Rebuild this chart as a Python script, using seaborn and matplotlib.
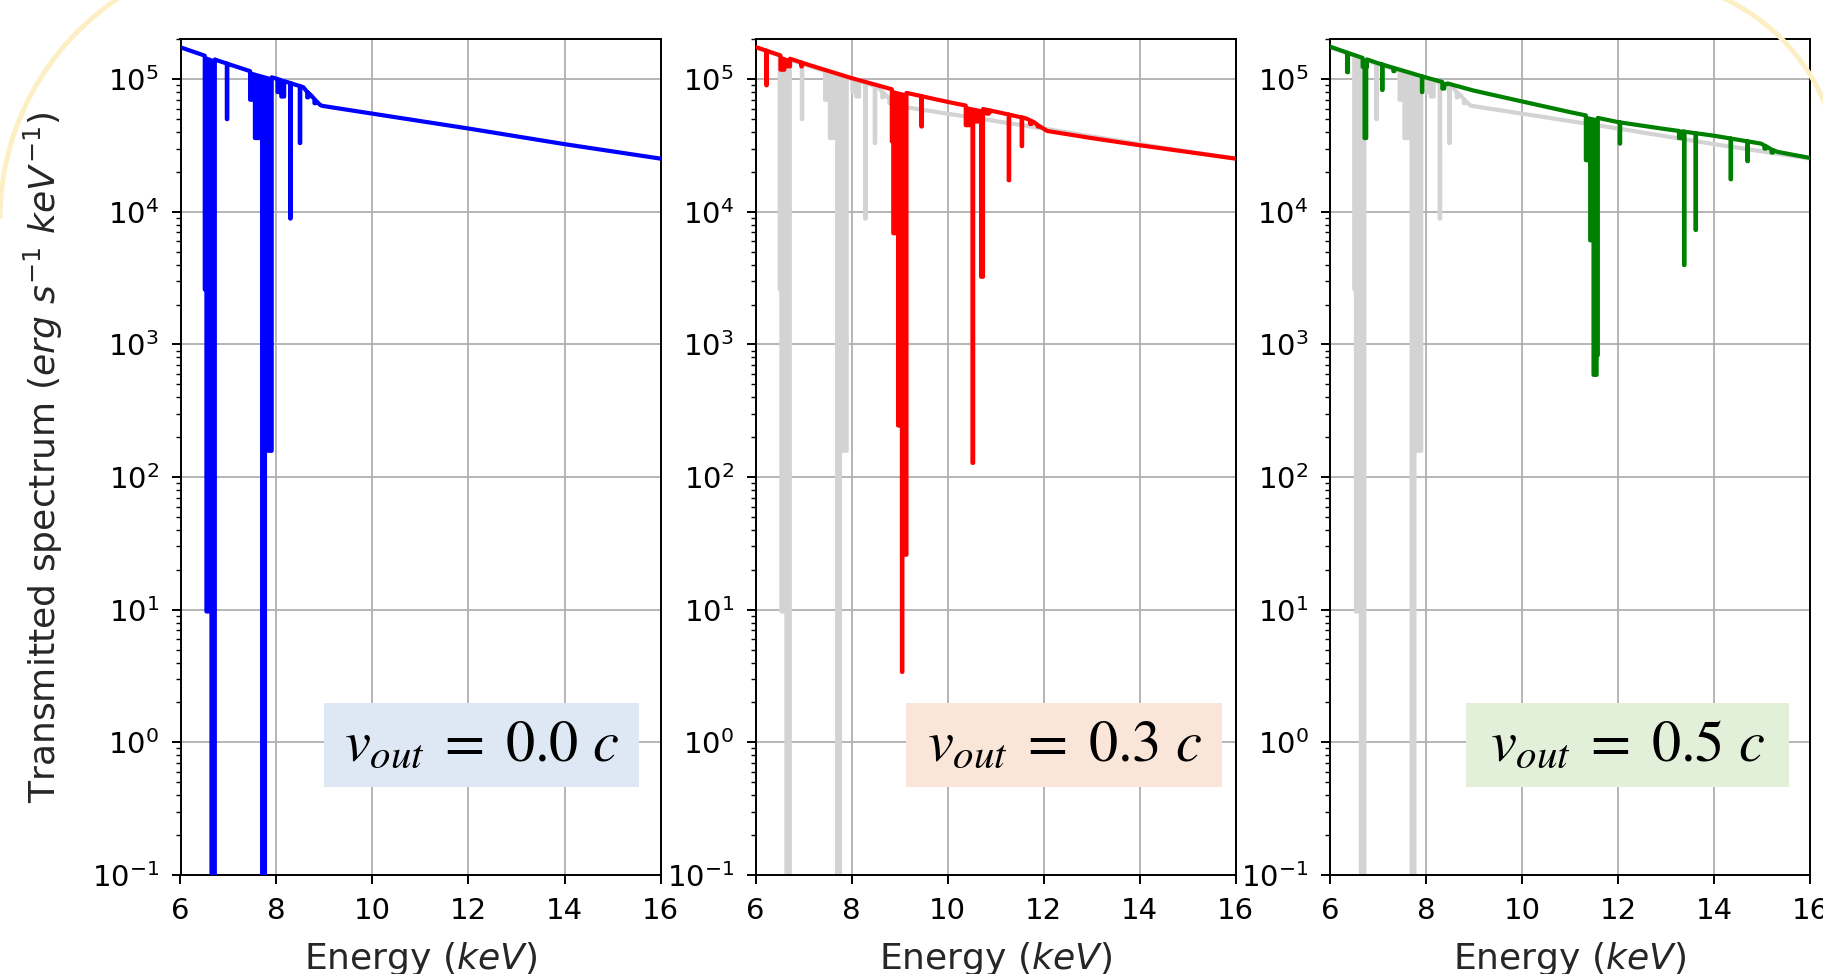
import numpy as np
import pandas as pd
import matplotlib
matplotlib.use("Agg")
import matplotlib.pyplot as plt
import seaborn as sns
from matplotlib.patches import Rectangle, Arc
from matplotlib.transforms import IdentityTransform

sns.set_theme(style="ticks")
plt.rcParams["font.family"] = ["DejaVu Sans"]
plt.rcParams["mathtext.fontset"] = "dejavusans"

# ---------------- data ----------------
panel_velocity = ["0.0", "0.3", "0.5"]
panel_color = ["blue", "red", "green"]
box_color = ["#dde8f4", "#fae5d9", "#e2efd9"]
x_ticks = [6, 8, 10, 12, 14, 16]

# v_out = 0.0 c : continuum nodes (keV, erg/s/keV)
blue_cont_E = [6.0, 6.45, 6.76, 7.0, 7.45, 8.0, 8.56, 8.63, 8.73, 8.80, 8.91, 8.95, 10.0, 12.0, 14.0, 16.0]
blue_cont_F = [1.74e5, 1.53e5, 1.39e5, 1.30e5, 1.15e5, 1.01e5, 8.7e4, 8.1e4, 7.5e4, 7.0e4, 6.4e4, 6.3e4, 5.5e4, 4.25e4, 3.24e4, 2.52e4]
# absorption features: start, end, minimum flux
blue_abs_lo = [6.505, 6.54, 6.645, 6.965, 7.45, 7.55, 7.70, 7.76, 8.02, 8.10, 8.285, 8.485, 8.64, 8.79]
blue_abs_hi = [6.54, 6.645, 6.715, 6.975, 7.55, 7.70, 7.76, 7.90, 8.06, 8.16, 8.295, 8.495, 8.66, 8.81]
blue_abs_min = [2.6e3, 9.7, 1e-3, 5.0e4, 7.0e4, 3.6e4, 1e-3, 158, 8.0e4, 7.4e4, 8.9e3, 3.3e4, 7.3e4, 6.6e4]

# v_out = 0.3 c
red_cont_E = [6.0, 7.0, 8.0, 9.0, 10.0, 11.0, 11.64, 11.80, 11.95, 12.08, 13.0, 14.0, 15.0, 16.0]
red_cont_F = [1.75e5, 1.32e5, 1.02e5, 8.1e4, 6.75e4, 5.7e4, 5.06e4, 4.75e4, 4.35e4, 4.07e4, 3.6e4, 3.18e4, 2.83e4, 2.52e4]
red_abs_lo = [6.225, 6.52, 6.60, 6.955, 8.84, 8.87, 8.97, 9.05, 9.06, 9.455, 10.38, 10.52, 10.535, 10.70, 10.82, 10.89, 11.275, 11.545, 11.72, 11.88]
red_abs_hi = [6.235, 6.60, 6.72, 6.965, 8.87, 8.97, 9.05, 9.06, 9.145, 9.465, 10.52, 10.535, 10.70, 10.74, 10.86, 10.91, 11.285, 11.555, 11.75, 11.92]
red_abs_min = [9.0e4, 1.18e5, 1.25e5, 1.25e5, 3.4e4, 6.9e3, 245, 3.4, 26, 4.4e4, 4.5e4, 128, 4.8e4, 3.24e3, 5.5e4, 5.7e4, 1.73e4, 3.13e4, 4.6e4, 4.4e4]

# v_out = 0.5 c
green_cont_E = [6.0, 7.0, 8.0, 9.0, 10.0, 11.0, 12.0, 13.0, 14.0, 14.98, 15.10, 15.20, 15.33, 16.0]
green_cont_F = [1.76e5, 1.32e5, 1.03e5, 8.2e4, 6.8e4, 5.65e4, 4.75e4, 4.2e4, 3.75e4, 3.27e4, 3.1e4, 2.95e4, 2.83e4, 2.55e4]
green_abs_lo = [6.355, 6.68, 6.72, 6.755, 7.085, 7.32, 7.915, 8.34, 8.38, 8.83, 11.33, 11.42, 11.49, 11.555, 12.035, 13.27, 13.375, 13.615, 14.345, 14.695, 15.05, 15.20]
green_abs_hi = [6.375, 6.72, 6.755, 6.77, 7.095, 7.34, 7.925, 8.38, 8.45, 8.85, 11.42, 11.49, 11.555, 11.58, 12.045, 13.33, 13.385, 13.625, 14.355, 14.705, 15.08, 15.23]
green_abs_min = [1.13e5, 1.24e5, 3.6e4, 1.24e5, 8.3e4, 1.15e5, 8.0e4, 8.5e4, 9.2e4, 9.3e4, 2.45e4, 6.1e3, 590, 830, 3.27e4, 3.6e4, 3.97e3, 7.3e3, 1.76e4, 2.41e4, 3.0e4, 2.8e4]


def spectrum_path(cont_E, cont_F, lo, hi, fmin):
    """Vertices of the piecewise spectrum: continuum with flat-bottomed dips."""
    cE = np.asarray(cont_E, float)
    lF = np.log10(np.asarray(cont_F, float))
    lo = np.asarray(lo, float); hi = np.asarray(hi, float); fmin = np.asarray(fmin, float)
    brk = np.unique(np.concatenate([cE, lo, hi]))

    def base(x):
        return 10 ** np.interp(x, cE, lF)

    def level(x, side):
        cover = ((lo < x) & (hi >= x)) if side < 0 else ((lo <= x) & (hi > x))
        return min(base(x), fmin[cover].min()) if cover.any() else base(x)

    xs, ys, cs = [], [], []
    for x in brk:
        a, b = level(x, -1), level(x, 1)
        xs.append(x); ys.append(a); cs.append(base(x))
        if b != a:
            xs.append(x); ys.append(b); cs.append(base(x))
    return pd.DataFrame({"Energy": xs, "Flux": ys, "Continuum": cs})


spectra = [
    spectrum_path(blue_cont_E, blue_cont_F, blue_abs_lo, blue_abs_hi, blue_abs_min),
    spectrum_path(red_cont_E, red_cont_F, red_abs_lo, red_abs_hi, red_abs_min),
    spectrum_path(green_cont_E, green_cont_F, green_abs_lo, green_abs_hi, green_abs_min),
]

# ---------------- figure ----------------
W, H = 1823, 974
fig = plt.figure(figsize=(W / 100, H / 100), dpi=100)
fig.patch.set_facecolor("white")

# decorative slide frame arcs
frame_col = "#fdefc4"
fig.add_artist(Arc((265, H - 219), 530, 530, theta1=90, theta2=180,
                   transform=IdentityTransform(), color=frame_col, lw=3.5))
fig.add_artist(Arc((1640, H - 180), 400, 400, theta1=0, theta2=90,
                   transform=IdentityTransform(), color=frame_col, lw=3.5))

lefts = [180.5, 755.5, 1330.0]
ax_w, ax_bot, ax_h = 480.0, 99.0, 835.7
lw_line = 3.0


def draw_spectrum(ax, df, color, z):
    ax.fill_between(df["Energy"], df["Flux"], df["Continuum"], color=color, lw=0, zorder=z)
    sns.lineplot(data=df, x="Energy", y="Flux", sort=False, estimator=None,
                 color=color, lw=lw_line, ax=ax, zorder=z)


for i, left in enumerate(lefts):
    ax = fig.add_axes([left / W, ax_bot / H, ax_w / W, ax_h / H])
    if i > 0:
        draw_spectrum(ax, spectra[0], "lightgray", 2)
    draw_spectrum(ax, spectra[i], panel_color[i], 3)
    ax.set_yscale("log")
    ax.set_xlim(6, 16)
    ax.set_ylim(0.1, 2.0e5)
    ax.set_xticks(x_ticks)
    ax.set_xticklabels([str(t) for t in x_ticks])
    ax.grid(True, which="major", color="#b0b0b0", lw=1.3)
    ax.set_axisbelow(True)
    for sp in ax.spines.values():
        sp.set_visible(True)
        sp.set_color("black")
        sp.set_linewidth(1.4)
    ax.tick_params(axis="both", which="major", direction="out", length=6.5, width=1.4,
                   labelsize=21, pad=9, colors="black")
    ax.tick_params(axis="y", which="minor", direction="out", length=3.6, width=1.0, colors="black")
    ax.set_xlabel("Energy ($keV$)", fontsize=26, labelpad=11)
    if i == 0:
        ax.set_ylabel("Transmitted spectrum ($erg\\ s^{-1}\\ keV^{-1}$)", fontsize=26, labelpad=19)
    else:
        ax.set_ylabel("")
    # velocity box
    bx = [0.2987, 0.3139, 0.284][i]
    bw = [0.657, 0.659, 0.672][i]
    ax.add_patch(Rectangle((bx, 0.1053), bw, 0.1005, transform=ax.transAxes,
                           facecolor=box_color[i], edgecolor="none", zorder=5))
    ax.text(bx + bw / 2, 0.1053 + 0.1005 / 2, r"$v_{out}\;=\;" + panel_velocity[i] + r"\ c$",
            transform=ax.transAxes, ha="center", va="center", fontsize=42,
            math_fontfamily="stix", zorder=6, color="black")

fig.savefig("out.png", dpi=100, facecolor="white")
